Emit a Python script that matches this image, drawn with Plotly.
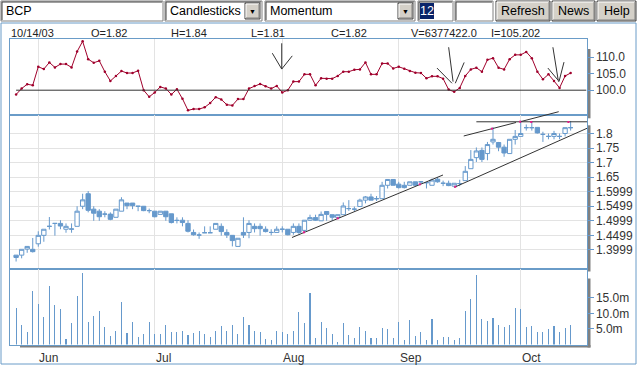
import plotly.graph_objects as go
import pandas as pd

W, H = 637, 366

# ---------------- data ----------------
dates = pd.bdate_range("2003-05-27", "2003-10-14")

opens = [1.382, 1.382, 1.403, 1.402, 1.421, 1.450, 1.481, 1.491, 1.491, 1.471,
         1.471, 1.481, 1.550, 1.593, 1.540, 1.533, 1.523, 1.523, 1.512, 1.533,
         1.561, 1.561, 1.550, 1.550, 1.535, 1.533, 1.522, 1.533, 1.524, 1.502,
         1.502, 1.491, 1.460, 1.451, 1.459, 1.459, 1.471, 1.481, 1.460, 1.450,
         1.412, 1.460, 1.460, 1.481, 1.481, 1.471, 1.460, 1.460, 1.471, 1.471,
         1.460, 1.481, 1.467, 1.502, 1.511, 1.500, 1.532, 1.521, 1.511, 1.521,
         1.542, 1.540, 1.549, 1.571, 1.582, 1.576, 1.576, 1.622, 1.642, 1.626,
         1.622, 1.622, 1.634, 1.634, 1.631, 1.622, 1.643, 1.629, 1.629, 1.619,
         1.628, 1.638, 1.679, 1.717, 1.742, 1.731, 1.771, 1.769, 1.753, 1.731,
         1.780, 1.790, 1.820, 1.820, 1.821, 1.797, 1.790, 1.790, 1.790, 1.800,
         1.820]
highs = [1.382, 1.402, 1.413, 1.441, 1.464, 1.471, 1.513, 1.491, 1.502, 1.491,
         1.491, 1.550, 1.593, 1.602, 1.550, 1.540, 1.533, 1.529, 1.540, 1.581,
         1.561, 1.561, 1.551, 1.550, 1.542, 1.533, 1.533, 1.533, 1.524, 1.512,
         1.512, 1.502, 1.470, 1.460, 1.481, 1.481, 1.491, 1.491, 1.471, 1.450,
         1.440, 1.512, 1.502, 1.491, 1.491, 1.481, 1.471, 1.481, 1.481, 1.471,
         1.491, 1.491, 1.502, 1.521, 1.521, 1.532, 1.532, 1.521, 1.521, 1.563,
         1.571, 1.549, 1.576, 1.585, 1.593, 1.585, 1.634, 1.642, 1.642, 1.634,
         1.634, 1.634, 1.634, 1.634, 1.632, 1.645, 1.650, 1.638, 1.638, 1.629,
         1.641, 1.688, 1.743, 1.752, 1.752, 1.771, 1.822, 1.771, 1.762, 1.780,
         1.812, 1.844, 1.831, 1.842, 1.821, 1.806, 1.800, 1.809, 1.800, 1.820,
         1.843]
lows = [1.360, 1.371, 1.390, 1.391, 1.411, 1.428, 1.470, 1.449, 1.471, 1.459,
        1.459, 1.481, 1.540, 1.529, 1.500, 1.500, 1.512, 1.502, 1.512, 1.533,
        1.540, 1.540, 1.533, 1.533, 1.526, 1.512, 1.522, 1.500, 1.491, 1.491,
        1.481, 1.460, 1.449, 1.438, 1.458, 1.458, 1.471, 1.449, 1.441, 1.412,
        1.412, 1.441, 1.440, 1.460, 1.449, 1.460, 1.450, 1.460, 1.460, 1.450,
        1.452, 1.455, 1.460, 1.500, 1.500, 1.500, 1.500, 1.500, 1.509, 1.521,
        1.534, 1.533, 1.549, 1.560, 1.571, 1.568, 1.576, 1.611, 1.622, 1.611,
        1.611, 1.622, 1.620, 1.627, 1.611, 1.622, 1.631, 1.619, 1.619, 1.615,
        1.619, 1.638, 1.679, 1.702, 1.702, 1.708, 1.762, 1.739, 1.720, 1.731,
        1.762, 1.790, 1.810, 1.810, 1.800, 1.771, 1.780, 1.780, 1.780, 1.790,
        1.810]
closes = [1.374, 1.402, 1.412, 1.394, 1.450, 1.471, 1.481, 1.491, 1.482, 1.481,
          1.472, 1.533, 1.572, 1.536, 1.526, 1.514, 1.523, 1.505, 1.540, 1.572,
          1.552, 1.552, 1.550, 1.535, 1.535, 1.514, 1.533, 1.514, 1.494, 1.501,
          1.494, 1.464, 1.452, 1.451, 1.459, 1.459, 1.491, 1.463, 1.451, 1.432,
          1.440, 1.451, 1.491, 1.473, 1.473, 1.463, 1.460, 1.471, 1.471, 1.452,
          1.481, 1.460, 1.502, 1.511, 1.502, 1.522, 1.522, 1.512, 1.521, 1.551,
          1.542, 1.540, 1.571, 1.582, 1.571, 1.576, 1.622, 1.642, 1.622, 1.614,
          1.614, 1.634, 1.622, 1.634, 1.631, 1.640, 1.634, 1.629, 1.621, 1.629,
          1.628, 1.670, 1.711, 1.740, 1.711, 1.762, 1.780, 1.753, 1.733, 1.780,
          1.790, 1.800, 1.820, 1.820, 1.802, 1.797, 1.790, 1.800, 1.790, 1.820,
          1.820]
volume_m = [11.8, 6.4, 3.9, 17.3, 13.1, 9.0, 18.8, 12.8, 11.3, 1.8,
            6.8, 15.6, 23.0, 7.4, 9.3, 10.9, 5.8, 2.7, 4.2, 13.7,
            3.6, 7.4, 2.4, 3.3, 7.1, 3.3, 3.3, 6.4, 3.9, 3.9,
            4.2, 3.0, 3.6, 4.2, 3.3, 2.4, 4.5, 6.1, 4.2, 6.4,
            3.3, 9.0, 6.4, 4.5, 3.9, 1.8, 1.4, 4.2, 3.9, 3.3,
            4.5, 10.6, 6.8, 16.6, 2.0, 7.4, 5.2, 3.3, 0.7, 6.8,
            3.0, 2.0, 5.5, 4.2, 2.0, 2.0, 5.2, 4.9, 2.0, 7.1,
            1.4, 8.0, 2.6, 3.9, 1.4, 8.3, 1.4, 2.3, 2.3, 1.4,
            2.0, 10.9, 14.7, 22.3, 8.3, 7.7, 8.7, 6.4, 5.5, 6.4,
            11.8, 11.5, 5.5, 6.1, 3.9, 3.9, 4.9, 6.1, 3.9, 5.2,
            6.4]
momentum = [98.7, 100.5, 101.8, 101.5, 107.1, 106.4, 108.4, 106.9, 107.9, 107.9,
            106.9, 111.7, 114.8, 109.4, 108.3, 108.9, 105.6, 102.8, 104.3, 105.8,
            105.2, 105.2, 105.9, 100.0, 98.0, 99.3, 101.0, 100.5, 98.7, 100.3,
            97.4, 93.9, 94.3, 94.3, 94.8, 96.1, 97.9, 97.2, 95.6, 95.4,
            97.3, 97.3, 100.5, 101.3, 101.9, 101.2, 100.5, 101.3, 99.3, 100.0,
            102.6, 102.6, 104.8, 104.8, 101.5, 103.6, 103.5, 103.5, 104.3, 105.6,
            105.6, 106.2, 106.3, 108.4, 104.8, 104.8, 108.1, 108.1, 106.6, 107.1,
            106.5, 105.8, 105.3, 105.2, 103.6, 104.2, 104.2, 103.5, 100.2, 99.5,
            100.7, 104.3, 106.3, 106.8, 105.6, 109.2, 109.7, 106.8, 106.3, 109.4,
            110.7, 110.7, 111.6, 109.7, 105.6, 103.3, 104.8, 102.8, 100.7, 104.3,
            105.2]

month_labels = ["Jun", "Jul", "Aug", "Sep", "Oct"]
mom_ticks = [100, 105, 110]
mom_tick_text = ["100.0", "105.0", "110.0"]
mom_reference = 100
price_ticks = [1.40, 1.45, 1.50, 1.55, 1.60, 1.65, 1.70, 1.75, 1.80]
price_tick_text = ["1.3999", "1.4499", "1.4999", "1.5499", "1.5999",
                   "1.65", "1.7", "1.75", "1.8"]
vol_ticks = [5, 10, 15]
vol_tick_text = ["5.0m", "10.0m", "15.0m"]
info_labels = ["10/14/03", "O=1.82", "H=1.84", "L=1.81", "C=1.82",
               "V=6377422.0", "I=105.202"]

# user-drawn trend lines on the price panel: (index, price) pairs
trend_lines = [((49.75, 1.4426), (76.98, 1.6574)),
               ((79.03, 1.6151), (102.96, 1.8179)),
               ((80.72, 1.7914), (90.15, 1.8378)),
               ((83.0, 1.8402), (102.96, 1.8402)),
               ((90.87, 1.8402), (97.85, 1.8749))]
trend_dots = [(51.9, 1.4605), (58.0, 1.5086), (72.8, 1.6254), (79.2, 1.6172),
              (85.8, 1.8165), (90.9, 1.8405), (92.9, 1.8395), (99.6, 1.8395)]
# user-drawn arrows on the momentum panel: (index, momentum) segments
arrow_segments = [((47.9, 114.2), (47.9, 106.4)), ((46.2, 111.2), (47.9, 106.4)),
                  ((49.8, 110.4), (47.9, 106.4)),
                  ((78.0, 113.0), (78.8, 102.6)), ((75.9, 106.7), (78.6, 102.1)),
                  ((80.8, 108.4), (79.2, 102.1)),
                  ((96.8, 113.0), (97.8, 102.6)), ((95.9, 106.7), (97.7, 103.1)),
                  ((98.8, 108.5), (97.9, 102.6))]

# ---------------- geometry / style ----------------
BLUE = "#6699cc"
FRAME = "#6a9cc8"
GRID = "#e3e3e3"
SHADOW = "#808080"
MOMC = "#a0002c"
FONT = "Liberation Sans, Arial, sans-serif"

idx = list(range(len(dates)))
month_pos = [i for i in idx[1:] if dates[i].month != dates[i - 1].month]

PX_L, PX_R = 10, 586.5
XR = [-1.1, 102.86]
MOM_Y = (39, 115.3)
PRICE_Y = (115.3, 268.5)
VOL_Y = (268.5, 344.5)
MOM_R = [92.4, 115.5]
PRICE_R = [1.3361, 1.8625]
VOL_R = [0, 24.5]


def pxx(x):
    return x / W


def pxy(y):
    return 1 - y / H


def dom_y(band):
    return [1 - band[1] / H, 1 - band[0] / H]


def data_to_px(i, v, rng, band):
    x = PX_L + (i - XR[0]) / (XR[1] - XR[0]) * (PX_R - PX_L)
    y = band[1] - (v - rng[0]) / (rng[1] - rng[0]) * (band[1] - band[0])
    return x, y


fig = go.Figure()

fig.add_trace(go.Scatter(x=idx, y=momentum, xaxis="x", yaxis="y", mode="lines+markers",
                         line=dict(color=MOMC, width=1), marker=dict(color=MOMC, size=2.5),
                         hoverinfo="skip", showlegend=False))
fig.add_trace(go.Candlestick(x=idx, open=opens, high=highs, low=lows, close=closes,
                             xaxis="x2", yaxis="y2", whiskerwidth=0,
                             increasing=dict(line=dict(color=BLUE, width=1), fillcolor="white"),
                             decreasing=dict(line=dict(color=BLUE, width=1), fillcolor=BLUE),
                             hoverinfo="skip", showlegend=False))
fig.add_trace(go.Bar(x=idx, y=volume_m, xaxis="x3", yaxis="y3", width=0.19,
                     marker=dict(color=BLUE, line=dict(width=0)),
                     hoverinfo="skip", showlegend=False))

xdom = [PX_L / W, PX_R / W]
xcommon = dict(domain=xdom, range=XR, showgrid=True, gridcolor=GRID, gridwidth=1,
               tickmode="array", tickvals=month_pos, showticklabels=False, ticks="",
               zeroline=False, showline=True, mirror=True, linecolor=FRAME, linewidth=1,
               rangeslider=dict(visible=False), fixedrange=True, automargin=False)
ycommon = dict(side="right", showline=True, mirror=True, linecolor=FRAME, linewidth=1,
               ticks="outside", ticklen=6, tickcolor=BLUE, zeroline=False, automargin=False,
               tickfont=dict(family=FONT, size=12, color="#333333"), fixedrange=True)

fig.update_layout(
    width=W, height=H, margin=dict(l=0, r=0, t=0, b=0, autoexpand=False),
    paper_bgcolor="white", plot_bgcolor="white", showlegend=False, bargap=0,
    boxgap=0.22, boxgroupgap=0,
    xaxis=dict(**xcommon, anchor="y"),
    xaxis2=dict(**xcommon, anchor="y2"),
    xaxis3=dict(**xcommon, anchor="y3"),
    yaxis=dict(**ycommon, domain=dom_y(MOM_Y), range=MOM_R, anchor="x",
               tickvals=mom_ticks, ticktext=mom_tick_text, showgrid=False),
    yaxis2=dict(**ycommon, domain=dom_y(PRICE_Y), range=PRICE_R, anchor="x2",
                tickvals=price_ticks, ticktext=price_tick_text, showgrid=True,
                gridcolor=GRID),
    yaxis3=dict(**ycommon, domain=dom_y(VOL_Y), range=VOL_R, anchor="x3",
                tickvals=vol_ticks, ticktext=vol_tick_text, showgrid=False),
)

shapes = []
annotations = []

# momentum reference line
shapes.append(dict(type="line", xref="x", yref="y", x0=idx[0], x1=XR[1],
                   y0=mom_reference, y1=mom_reference, line=dict(color="#333333", width=1)))

# drop shadows of the panels
for (t, b) in (MOM_Y, PRICE_Y, VOL_Y):
    shapes.append(dict(type="rect", xref="paper", yref="paper", x0=pxx(PX_R + 1), x1=pxx(PX_R + 4),
                       y0=pxy(b + 3), y1=pxy(t + 10), fillcolor=SHADOW, line=dict(width=0),
                       layer="below"))
shapes.append(dict(type="rect", xref="paper", yref="paper", x0=pxx(PX_L + 10), x1=pxx(PX_R + 4),
                   y0=pxy(VOL_Y[1] + 3), y1=pxy(VOL_Y[1] + 0.5), fillcolor=SHADOW,
                   line=dict(width=0), layer="below"))

# outer frame
shapes.append(dict(type="rect", xref="paper", yref="paper", x0=pxx(1), x1=pxx(636),
                   y0=pxy(364), y1=pxy(23), line=dict(color=FRAME, width=1), layer="below"))

# trend lines
for (a, b) in trend_lines:
    x0, y0 = data_to_px(a[0], a[1], PRICE_R, PRICE_Y)
    x1, y1 = data_to_px(b[0], b[1], PRICE_R, PRICE_Y)
    shapes.append(dict(type="line", xref="paper", yref="paper", x0=pxx(x0), y0=pxy(y0),
                       x1=pxx(x1), y1=pxy(y1), line=dict(color="#333333", width=1)))
for (a, b) in arrow_segments:
    x0, y0 = data_to_px(a[0], a[1], MOM_R, MOM_Y)
    x1, y1 = data_to_px(b[0], b[1], MOM_R, MOM_Y)
    shapes.append(dict(type="line", xref="paper", yref="paper", x0=pxx(x0), y0=pxy(y0),
                       x1=pxx(x1), y1=pxy(y1), line=dict(color="#333333", width=1)))
for (i, p) in trend_dots:
    x, y = data_to_px(i, p, PRICE_R, PRICE_Y)
    shapes.append(dict(type="rect", xref="paper", yref="paper", x0=pxx(x - 1), x1=pxx(x + 1),
                       y0=pxy(y + 1), y1=pxy(y - 1), fillcolor="#e8178a", line=dict(width=0)))

# month labels
for m, lab in zip(month_pos, month_labels):
    annotations.append(dict(xref="x3", yref="paper", x=m, y=pxy(357.5), text=lab,
                            showarrow=False, xanchor="left", yanchor="middle", xshift=-1,
                            font=dict(family=FONT, size=12, color="#333333")))

# info row
for k, lab in enumerate(info_labels):
    annotations.append(dict(xref="paper", yref="paper", x=pxx(9 + 80 * k), y=pxy(32.5),
                            text=lab, showarrow=False, xanchor="left", yanchor="middle",
                            font=dict(family=FONT, size=11, color="#222222")))

# ---------------- toolbar ----------------
TB = "#d4d0c8"


def sunken(x0, x1, y0=1, y1=21, fill="white"):
    shapes.append(dict(type="rect", xref="paper", yref="paper", x0=pxx(x0), x1=pxx(x1),
                       y0=pxy(y1), y1=pxy(y0), fillcolor=fill, line=dict(color="#808080", width=1)))
    shapes.append(dict(type="path", xref="paper", yref="paper",
                       path=f"M {pxx(x0 + 1)} {pxy(y1 - 1)} L {pxx(x0 + 1)} {pxy(y0 + 1)} L {pxx(x1 - 1)} {pxy(y0 + 1)}",
                       line=dict(color="#404040", width=1)))


def raised(x0, x1, y0=1, y1=21):
    shapes.append(dict(type="rect", xref="paper", yref="paper", x0=pxx(x0), x1=pxx(x1),
                       y0=pxy(y1), y1=pxy(y0), fillcolor=TB, line=dict(color="#404040", width=1)))
    shapes.append(dict(type="path", xref="paper", yref="paper",
                       path=f"M {pxx(x0 + 1)} {pxy(y1 - 1)} L {pxx(x0 + 1)} {pxy(y0 + 1)} L {pxx(x1 - 1)} {pxy(y0 + 1)}",
                       line=dict(color="white", width=1)))
    shapes.append(dict(type="path", xref="paper", yref="paper",
                       path=f"M {pxx(x0 + 1)} {pxy(y1 - 1)} L {pxx(x1 - 1)} {pxy(y1 - 1)} L {pxx(x1 - 1)} {pxy(y0 + 1)}",
                       line=dict(color="#808080", width=1)))


def label(x, y, text, size=12.5, color="black", anchor="left"):
    annotations.append(dict(xref="paper", yref="paper", x=pxx(x), y=pxy(y), text=text,
                            showarrow=False, xanchor=anchor, yanchor="middle",
                            font=dict(family=FONT, size=size, color=color)))


sunken(1, 163)
label(4, 11.5, "BCP")
sunken(165, 262)
raised(245, 260, 3, 19)
label(252.5, 11.5, "▼", size=7, anchor="center")
label(168, 11.5, "Candlesticks")
sunken(265, 415)
raised(398, 413, 3, 19)
label(405.5, 11.5, "▼", size=7, anchor="center")
label(268, 11.5, "Momentum")
sunken(418, 453)
shapes.append(dict(type="rect", xref="paper", yref="paper", x0=pxx(420), x1=pxx(434),
                   y0=pxy(19), y1=pxy(3), fillcolor="#0a246a", line=dict(width=0)))
label(427, 11.5, "12", color="white", anchor="center")
sunken(455, 493)
for (x0, x1, t) in ((496, 550, "Refresh"), (552, 595, "News"), (597, 636, "Help")):
    raised(x0, x1)
    label((x0 + x1) / 2, 11.5, t, anchor="center")

fig.update_layout(shapes=shapes, annotations=annotations)

fig.write_html("out.html", config={"displayModeBar": False, "staticPlot": True},
               post_script="document.body.style.margin='0';document.body.style.overflow='hidden';")
